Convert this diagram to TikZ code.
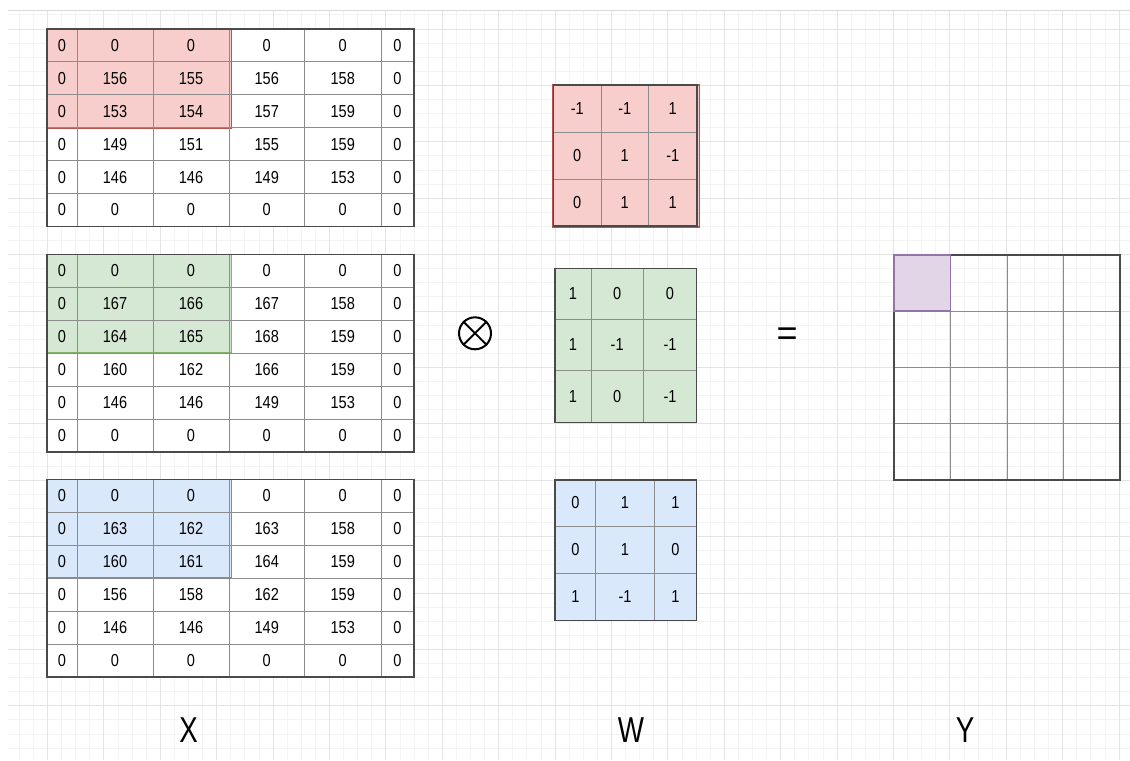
\documentclass[tikz,border=0pt]{standalone}
\usepackage{fontspec}
\setmainfont{Liberation Sans}
\usepackage{graphicx}
\definecolor{redf}{HTML}{F8CECC}\definecolor{reds}{HTML}{B85450}
\definecolor{greenf}{HTML}{D5E8D4}\definecolor{greens}{HTML}{82B366}
\definecolor{bluef}{HTML}{DAE8FC}\definecolor{blues}{HTML}{6C8EBF}
\definecolor{purf}{HTML}{E1D5E7}\definecolor{purs}{HTML}{9673A6}
\definecolor{gridminor}{HTML}{F3F3F3}\definecolor{gridmajor}{HTML}{E4E4E4}
\definecolor{gridtop}{HTML}{D8D8D8}
\definecolor{tin}{HTML}{8C8C8C}\definecolor{tout}{HTML}{4A4A4A}
\newcommand{\nx}[1]{\scalebox{0.84}[1]{#1}}
\tikzset{
  num/.style={inner sep=0pt, text=black, font=\fontsize{13pt}{15pt}\selectfont},
  inl/.style={draw=tin, line width=0.75pt},
  outl/.style={draw=tout, line width=0.9pt},
  big/.style={inner sep=0pt, anchor=base, text=black, font=\fontsize{27pt}{30pt}\selectfont},
  gmin/.style={draw=gridminor, line width=0.75pt},
  gmaj/.style={draw=gridmajor, line width=0.75pt},
}
\newcommand{\tablelines}[6]{%
  \foreach \xx in {#5} \draw[inl] (\xx,#3) -- (\xx,#4);
  \foreach \yy in {#6} \draw[inl] (#1,\yy) -- (#2,\yy);
  \draw[outl] (#1,#3) rectangle (#2,#4);
}
% #1 name, #2 y offset, #3 overlay fill, #4 overlay stroke, #5 rows
\newcommand{\xmatrix}[5]{%
  \fill[white] (47,29+#2) rectangle (414,226.4+#2);
  \draw[fill=#3, draw=#4, line width=1.3pt] (47,29+#2) rectangle (231.5,127.7+#2);
  \tablelines{47}{414}{29+#2}{226.4+#2}{77,153,229,304.5,381}{61.9+#2,94.8+#2,127.7+#2,160.6+#2,193.5+#2}
  \foreach \row [count=\r] in {#5} {
    \foreach \v [count=\c] in \row {
      \pgfmathsetmacro{\cx}{{62,115,191,266.75,342.75,397.5}[\c-1]}
      \pgfmathsetmacro{\cy}{29+#2+16.45+32.9*(\r-1)}
      \node[num] (#1-\r-\c) at (\cx,\cy) {\nx{\v}};
    }
  }
}
% #1 name, #2 x lines, #3 y lines, #4 col centres, #5 row centres, #6 rows
\newcommand{\kmatrix}[6]{%
  \pgfmathsetmacro{\kxa}{{#2}[0]}\pgfmathsetmacro{\kxb}{{#2}[1]}%
  \pgfmathsetmacro{\kxc}{{#2}[2]}\pgfmathsetmacro{\kxd}{{#2}[3]}%
  \pgfmathsetmacro{\kya}{{#3}[0]}\pgfmathsetmacro{\kyb}{{#3}[1]}%
  \pgfmathsetmacro{\kyc}{{#3}[2]}\pgfmathsetmacro{\kyd}{{#3}[3]}%
  \tablelines{\kxa}{\kxd}{\kya}{\kyd}{\kxb,\kxc}{\kyb,\kyc}
  \foreach \row [count=\r] in {#6} {
    \foreach \v [count=\c] in \row {
      \pgfmathsetmacro{\cx}{{#4}[\c-1]}
      \pgfmathsetmacro{\cy}{{#5}[\r-1]}
      \node[num] (#1-\r-\c) at (\cx,\cy) {\nx{\v}};
    }
  }
}
\begin{document}
\begin{tikzpicture}[x=0.75pt,y=-0.75pt]
\useasboundingbox (0,0) rectangle (1130,760);
\fill[white] (0,0) rectangle (1130,760);
% background grid
\foreach \k in {0,...,78} \draw[gmin] ({19.3+\k*14.1},10) -- ({19.3+\k*14.1},760);
\foreach \k in {0,...,52} \draw[gmin] (8,{14.9+\k*14.1}) -- (1130,{14.9+\k*14.1});
\foreach \j in {0,...,19} \draw[gmaj] ({47.5+\j*56.4},10) -- ({47.5+\j*56.4},760);
\foreach \j in {0,...,12} \draw[gmaj] (8,{29+\j*56.4}) -- (1130,{29+\j*56.4});
\draw[draw=gridtop, line width=0.75pt] (8,10) -- (1130,10);

% X matrices
\xmatrix{xr}{0}{redf}{reds}{{0,0,0,0,0,0},{0,156,155,156,158,0},{0,153,154,157,159,0},{0,149,151,155,159,0},{0,146,146,149,153,0},{0,0,0,0,0,0}}
\xmatrix{xg}{225.5}{greenf}{greens}{{0,0,0,0,0,0},{0,167,166,167,158,0},{0,164,165,168,159,0},{0,160,162,166,159,0},{0,146,146,149,153,0},{0,0,0,0,0,0}}
\xmatrix{xb}{450.5}{bluef}{blues}{{0,0,0,0,0,0},{0,163,162,163,158,0},{0,160,161,164,159,0},{0,156,158,162,159,0},{0,146,146,149,153,0},{0,0,0,0,0,0}}

% kernels
\draw[fill=redf, draw=reds, line width=1.3pt] (552.5,85) rectangle (699.5,227);
\kmatrix{wr}{553.5,601,648.5,697}{85,132.3,179.3,226}{577.25,624.75,672.75}{108.65,155.8,202.65}{{-1,-1,1},{0,1,-1},{0,1,1}}
\fill[greenf] (555,268.3) rectangle (696.7,422.5);
\kmatrix{wg}{555,591,643.3,696.7}{268.3,319,370,422.5}{573,617.15,670}{293.65,344.5,396.25}{{1,0,0},{1,-1,-1},{1,0,-1}}
\fill[bluef] (555,480) rectangle (696.7,620.5);
\kmatrix{wb}{555,595.7,654.3,696.7}{480,526,573.3,620.5}{575.35,625,675.5}{503,549.65,596.9}{{0,1,1},{0,1,0},{1,-1,1}}

% operator
\node[draw=black, circle, minimum size=24pt, inner sep=0pt, line width=1.5pt] (op) at (475,333.3) {};
\draw[line width=1.5pt] (op.45) -- (op.225);
\draw[line width=1.5pt] (op.135) -- (op.315);
\node[big] (eq) at (787,345.5) {=};

% output Y
\tablelines{894}{1120}{255}{480}{950.5,1007,1063.5}{311.2,367.5,423.8}
\draw[fill=purf, draw=purs, line width=1.1pt] (894,255) rectangle (950.5,311.2);

% labels
\node[big] (lx) at (188.5,742.7) {\scalebox{0.77}[1]{X}};
\node[big] (lw) at (631,742.7) {\scalebox{0.77}[1]{W}};
\node[big] (ly) at (965,742.7) {\scalebox{0.77}[1]{Y}};
\end{tikzpicture}
\end{document}
